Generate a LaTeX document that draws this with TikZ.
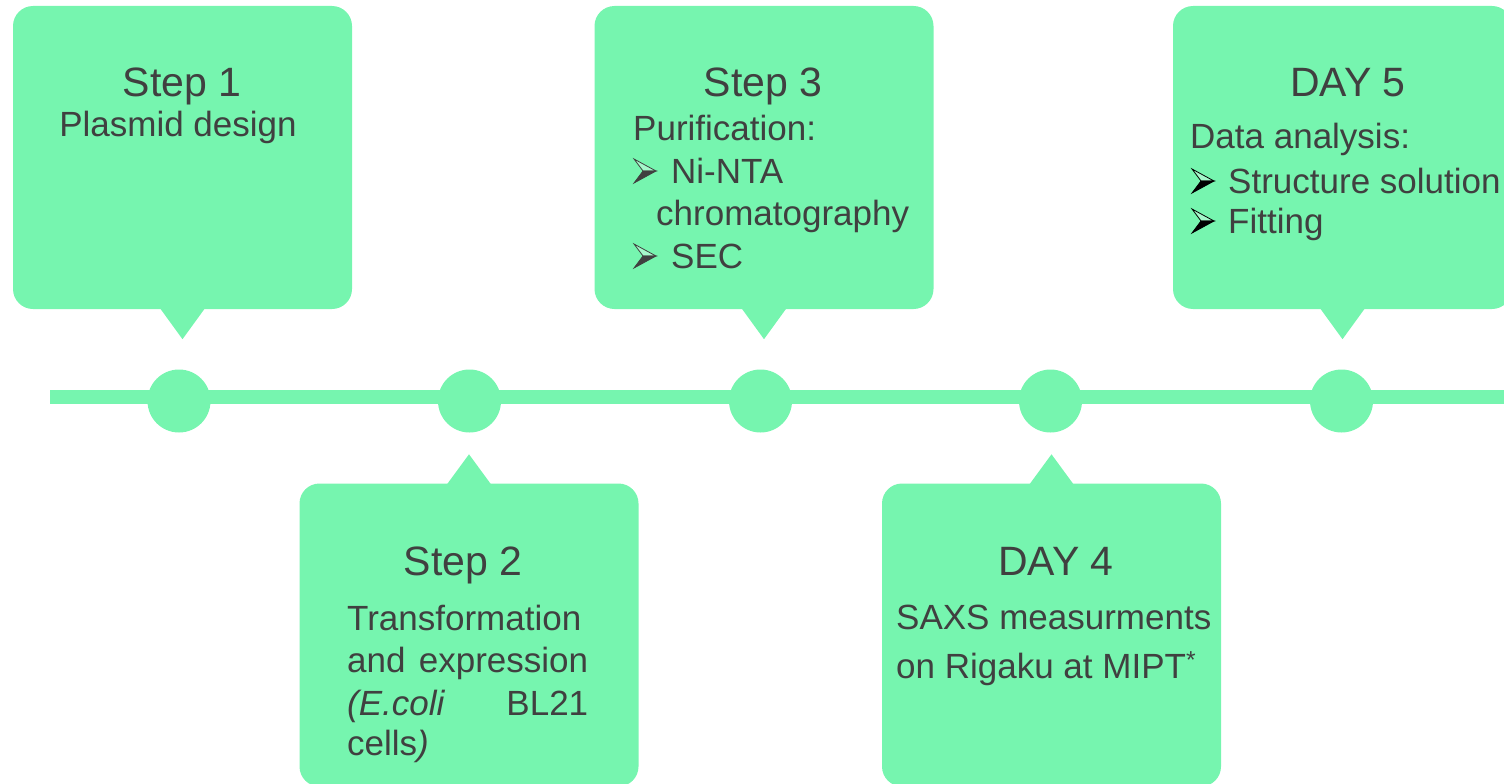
\documentclass[tikz,border=0pt]{standalone}
\usepackage{fontspec}
\setmainfont{Liberation Sans}
\usetikzlibrary{calc}
\definecolor{mint}{RGB}{118,245,175}
\definecolor{ink}{RGB}{64,64,64}

\begin{document}
\begin{tikzpicture}[x=1pt,y=-1pt,
  callout/.style={fill=mint, rounded corners=20pt, minimum width=339pt,
                  minimum height=303pt, inner sep=0pt},
  dot/.style={circle, fill=mint, minimum size=63pt, inner sep=0pt},
  head/.style={text=ink, font=\fontsize{41}{49}\selectfont, anchor=base, inner sep=0pt},
  body/.style={text=ink, font=\fontsize{35}{42}\selectfont, anchor=base west,
               inner sep=0pt, align=left},
  tipdown/.style={fill=mint},
  % three-d arrowhead bullet sitting on the baseline
  pics/arrowbullet/.style={code={
    \filldraw[draw=#1, fill=white!35!mint, line width=0.8pt, line join=miter]
      (0,-24) -- (22,-12) -- (9,-12) -- cycle;
    \filldraw[draw=#1, fill=#1, line width=0.8pt, line join=miter]
      (9,-12) -- (22,-12) -- (0,0) -- cycle;
  }},
]
\useasboundingbox (0,0) rectangle (1504,784);
\clip (0,0) rectangle (1504,784);

% timeline bar
\coordinate (tl0) at (50,397);
\coordinate (tl1) at (1510,397);
\draw[mint, line width=14pt] (tl0) -- (tl1);

% milestones
\node[dot] (d1) at (179,401) {};
\node[dot] (d2) at (469.5,401) {};
\node[dot] (d3) at (760.5,401) {};
\node[dot] (d4) at (1050.5,401) {};
\node[dot] (d5) at (1341.5,401) {};

% callouts above the line
\node[callout] (b1) at (182.5,157.5) {};
\node[callout] (b3) at (764,157.5) {};
\node[callout] (b5) at (1342.5,157.5) {};
\fill[tipdown] ($(b1.south)+(-22.5,-1)$) -- ($(b1.south)+(22.5,-1)$) -- ($(b1.south)+(0,30)$) -- cycle;
\fill[tipdown] ($(b3.south)+(-22.5,-1)$) -- ($(b3.south)+(22.5,-1)$) -- ($(b3.south)+(0,30)$) -- cycle;
\fill[tipdown] ($(b5.south)+(-22.5,-1)$) -- ($(b5.south)+(22.5,-1)$) -- ($(b5.south)+(0,30)$) -- cycle;

% callouts below the line
\node[callout] (b2) at (469,635) {};
\node[callout] (b4) at (1051.5,635) {};
\fill[tipdown] ($(b2.north)+(-22,1)$) -- ($(b2.north)+(22,1)$) -- ($(b2.north)+(0,-29)$) -- cycle;
\fill[tipdown] ($(b4.north)+(-22,1)$) -- ($(b4.north)+(22,1)$) -- ($(b4.north)+(0,-29)$) -- cycle;

% Step 1
\node[head] (h1) at (182,96) {Step 1};
\node[body, anchor=base] (p1) at (178,136) {Plasmid design};

% Step 3
\node[head] (h3) at (763,96) {Step 3};
\node[body] (p3a) at (633,140) {Purification:};
\coordinate (u3a) at (634,183);
\pic at (u3a) {arrowbullet=ink};
\node[body] (p3b) at (671,183) {Ni-NTA};
\node[body] (p3c) at (656,225) {chromatography};
\coordinate (u3b) at (634,268);
\pic at (u3b) {arrowbullet=ink};
\node[body] (p3d) at (671,268) {SEC};

% DAY 5
\node[head] (h5) at (1348,96) {DAY 5};
\node[body] (p5a) at (1190,148) {Data analysis:};
\coordinate (u5a) at (1192,193);
\pic at (u5a) {arrowbullet=black};
\node[body] (p5b) at (1228,193) {Structure solution};
\coordinate (u5b) at (1192,233);
\pic at (u5b) {arrowbullet=black};
\node[body] (p5c) at (1228,233) {Fitting};

% Step 2
\node[head] (h2) at (463,575) {Step 2};
\node[body, text width=241pt] (p2a) at (347,630) {Transformation};
\node[body, text width=241pt] (p2b) at (347,672) {and\hfill expression};
\node[body, text width=241pt] (p2c) at (347,715) {\textit{(E.coli}\hfill BL21};
\node[body, text width=241pt] (p2d) at (347,755) {cells\textit{)}};

% DAY 4
\node[head] (h4) at (1056,575) {DAY 4};
\node[body] (p4a) at (896,629) {SAXS measurments};
\node[body] (p4b) at (896,678) {on Rigaku at MIPT\textsuperscript{*}};
\end{tikzpicture}
\end{document}
